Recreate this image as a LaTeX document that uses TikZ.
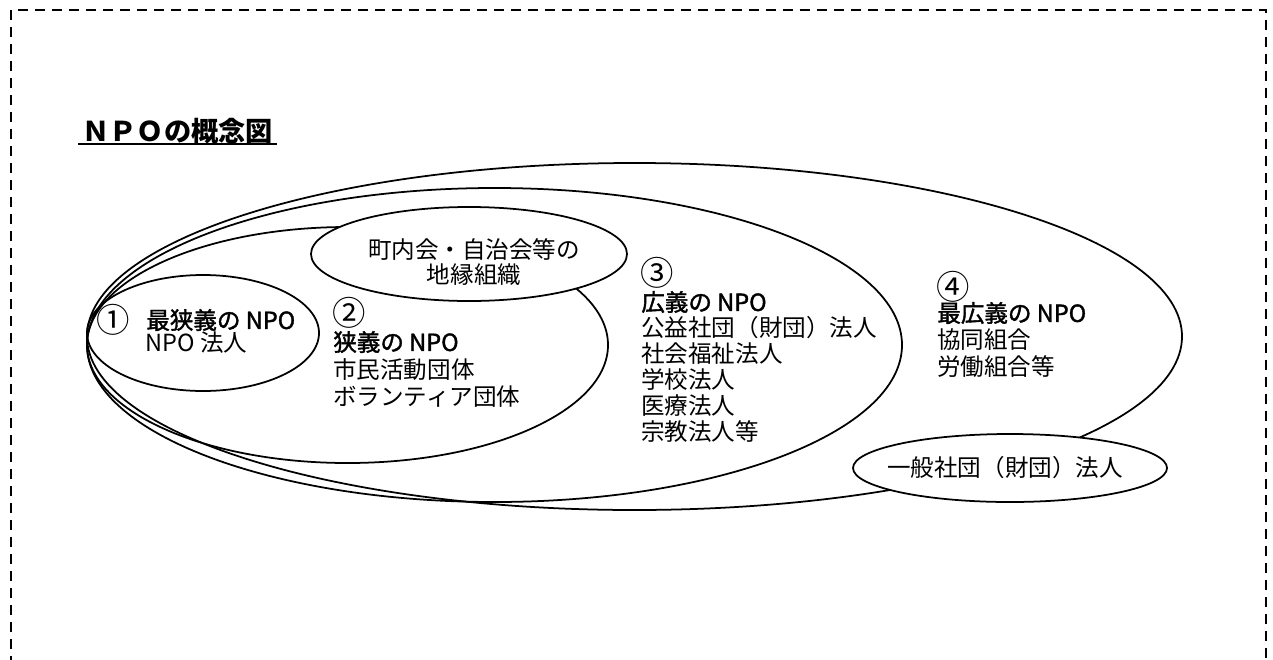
\documentclass[tikz,border=0pt]{standalone}
\usepackage{fontspec}
\setmainfont{Noto Sans CJK JP}
\newfontfamily\semibold{Noto Sans CJK JP}[FakeBold=1.6]
\usepackage{tikz}
\usetikzlibrary{calc}

\tikzset{
  ring/.style={line width=1pt},
  patch/.style={line width=1pt, fill=white},
  txt/.style={inner sep=0pt, anchor=west, font=\fontsize{13.4}{15}\selectfont},
  head/.style={txt, font=\fontsize{13.4}{15}\selectfont\semibold},
  num/.style={txt, font=\fontsize{19}{20}\selectfont},
  frame/.style={line width=1.6pt, dash pattern=on 0.2cm off 0.14cm},
}

\begin{document}
\begin{tikzpicture}[x=0.02cm, y=-0.02cm]
    \useasboundingbox (0,0) rectangle (1273,659);
    \clip (0,0) rectangle (1273,659);

    \draw[frame] (11,700) -- (11,10) -- (1266,10) -- (1266,700);

    \node[inner sep=0pt, anchor=west, font=\fontsize{15.5}{16}\selectfont\bfseries] (title) at (82,131) {ＮＰＯの概念図};
    \draw[line width=1.2pt] ([xshift=-2pt]title.south west) -- ([xshift=2pt]title.south east);

    % nested circles, all meeting on the left
    \draw[ring] (634.5,336.5) ellipse [x radius=547.5, y radius=173.5];
    \draw[ring] (494.5,345) ellipse [x radius=407.5, y radius=157];
    \draw[ring] (347.5,345) ellipse [x radius=260.5, y radius=118];
    \draw[ring] (203,333) ellipse [x radius=116, y radius=58];

    \draw[patch] (469,254) ellipse [x radius=158, y radius=47];
    \node[txt, anchor=center, align=center, font=\fontsize{13.4}{14.7}\selectfont] (chien) at (474,262) {町内会・自治会等の\\地縁組織};

    \draw[patch] (1010,468) ellipse [x radius=157, y radius=34];
    \node[txt, anchor=center] (ippan) at (1005,468) {一般社団（財団）法人};

    \node[num] (n1) at (96,320) {①};
    \node[head] (n1h) at (146,320) {最狭義の NPO};
    \node[txt] (n1b) at (145,343) {NPO 法人};

    \node[num] (n2) at (332,313) {②};
    \node[head] (n2h) at (333,342) {狭義の NPO};
    \foreach \t [count=\i] in {市民活動団体, ボランティア団体}
        \node[txt] (c2-\i) at (333, 342+27.5*\i) {\t};

    \node[num] (n3) at (640,273) {③};
    \node[head] (n3h) at (641,302) {広義の NPO};
    \foreach \t [count=\i] in {公益社団（財団）法人, 社会福祉法人, 学校法人, 医療法人, 宗教法人等}
        \node[txt] (c3-\i) at (641, 302+26*\i) {\t};

    \node[num] (n4) at (936,287) {④};
    \node[head] (n4h) at (937,313) {最広義の NPO};
    \foreach \t [count=\i] in {協同組合, 労働組合等}
        \node[txt] (c4-\i) at (937, 313+27*\i) {\t};

\end{tikzpicture}
\end{document}
